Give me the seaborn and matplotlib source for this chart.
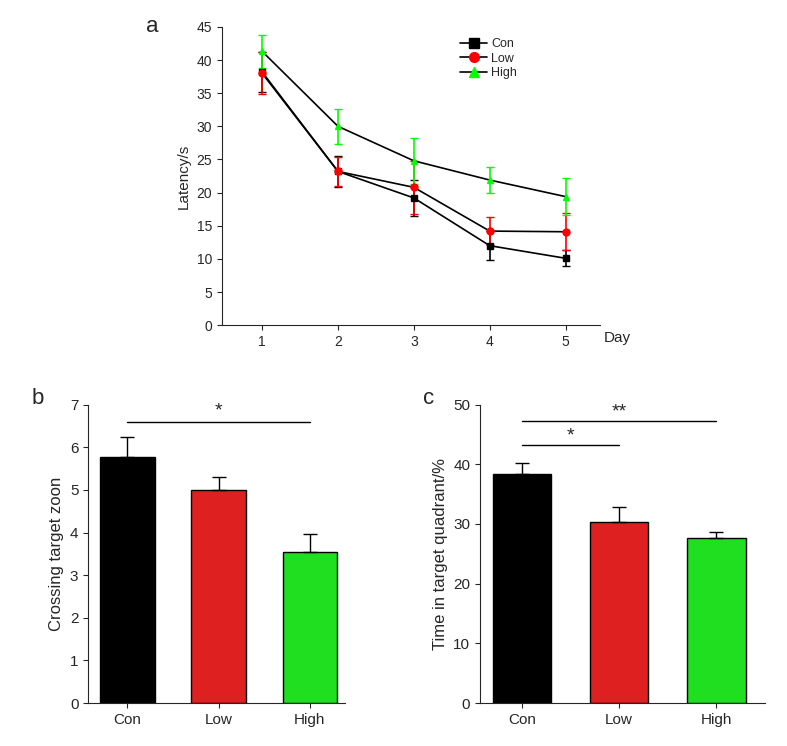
import numpy as np
import pandas as pd
import matplotlib
matplotlib.use('Agg')
import matplotlib.pyplot as plt
import seaborn as sns

sns.set_style('ticks')
plt.rcParams['font.family'] = ['Arial', 'Liberation Sans', 'DejaVu Sans']

# panel a data
days = [1, 2, 3, 4, 5]
con_lat = [38.2, 23.2, 19.2, 12.0, 10.1]
con_err = [3.0, 2.3, 2.7, 2.2, 1.2]
low_lat = [38.0, 23.2, 20.8, 14.2, 14.1]
low_err = [3.2, 2.2, 4.0, 2.1, 2.8]
high_lat = [41.3, 30.0, 24.8, 21.9, 19.4]
high_err = [2.5, 2.6, 3.5, 2.0, 2.8]

# panel b/c data
groups = ['Con', 'Low', 'High']
crossing = [5.78, 5.0, 3.55]
crossing_err = [0.47, 0.3, 0.42]
quadrant = [38.4, 30.3, 27.6]
quadrant_err = [1.8, 2.5, 1.0]

colors = ['#000000', '#ff0000', '#00ff00']
markers = ['s', 'o', '^']

fig = plt.figure(figsize=(7.87, 7.46), dpi=100)
ax_a = fig.add_axes([0.282, 0.564, 0.48, 0.4])
ax_b = fig.add_axes([0.112, 0.0576, 0.327, 0.4])
ax_c = fig.add_axes([0.61, 0.0576, 0.362, 0.4])

# panel a
series = [('Con', con_lat, con_err), ('Low', low_lat, low_err), ('High', high_lat, high_err)]
for (name, vals, errs), c, m in zip(series, colors, markers):
    ax_a.errorbar(days, vals, yerr=errs, fmt='none', ecolor=c, capsize=3, elinewidth=1.2, zorder=2)
    sns.lineplot(x=days, y=vals, ax=ax_a, color='black', lw=1.2, zorder=3)
    ax_a.plot(days, vals, ls='none', marker=m, color=c, ms=5, zorder=4)
handles = [plt.Line2D([], [], color='black', lw=1.2, marker=m, mfc=c, mec=c, ms=7)
           for c, m in zip(colors, markers)]
ax_a.legend(handles, groups, loc='upper left', bbox_to_anchor=(0.6, 1.0), frameon=False,
            fontsize=9, handlelength=2.2, labelspacing=0.2, handletextpad=0.3)
ax_a.set_xlim(0.47, 5.45)
ax_a.set_ylim(0, 45)
ax_a.set_xticks(days)
ax_a.set_yticks(range(0, 46, 5))
ax_a.set_ylabel('Latency/s', fontsize=11)
ax_a.text(1.01, -0.02, 'Day', transform=ax_a.transAxes, ha='left', va='top', fontsize=11)
ax_a.text(-0.2, 1.0, 'a', transform=ax_a.transAxes, fontsize=16, va='center')
sns.despine(ax=ax_a)

def bar_panel(ax, vals, errs, ylim, yticks, ylabel, xlim):
    df = pd.DataFrame({'group': groups, 'val': vals})
    sns.barplot(data=df, x='group', y='val', hue='group', palette=colors, ax=ax,
                width=0.6, edgecolor='black', linewidth=1, legend=False)
    ax.errorbar(range(3), vals, yerr=[np.zeros(3), errs], fmt='none', ecolor='black',
                capsize=5, elinewidth=1)
    ax.set_xlim(*xlim)
    ax.set_ylim(*ylim)
    ax.set_yticks(yticks)
    ax.set_xlabel('')
    ax.set_ylabel(ylabel, fontsize=12)
    ax.tick_params(labelsize=11)
    sns.despine(ax=ax)

bar_panel(ax_b, crossing, crossing_err, (0, 7), range(0, 8), 'Crossing target zoon', (-0.43, 2.39))
ax_b.plot([0, 2], [6.6, 6.6], color='black', lw=1)
ax_b.text(1, 6.65, '*', ha='center', va='bottom', fontsize=14)
ax_b.text(-0.22, 1.02, 'b', transform=ax_b.transAxes, fontsize=16, va='center')

bar_panel(ax_c, quadrant, quadrant_err, (0, 50), range(0, 51, 10), 'Time in target quadrant/%', (-0.43, 2.5))
ax_c.plot([0, 1], [43.2, 43.2], color='black', lw=1)
ax_c.text(0.5, 43.4, '*', ha='center', va='bottom', fontsize=14)
ax_c.plot([0, 2], [47.2, 47.2], color='black', lw=1)
ax_c.text(1, 47.4, '**', ha='center', va='bottom', fontsize=14)
ax_c.text(-0.2, 1.02, 'c', transform=ax_c.transAxes, fontsize=16, va='center')

fig.savefig('out.png', dpi=100)
